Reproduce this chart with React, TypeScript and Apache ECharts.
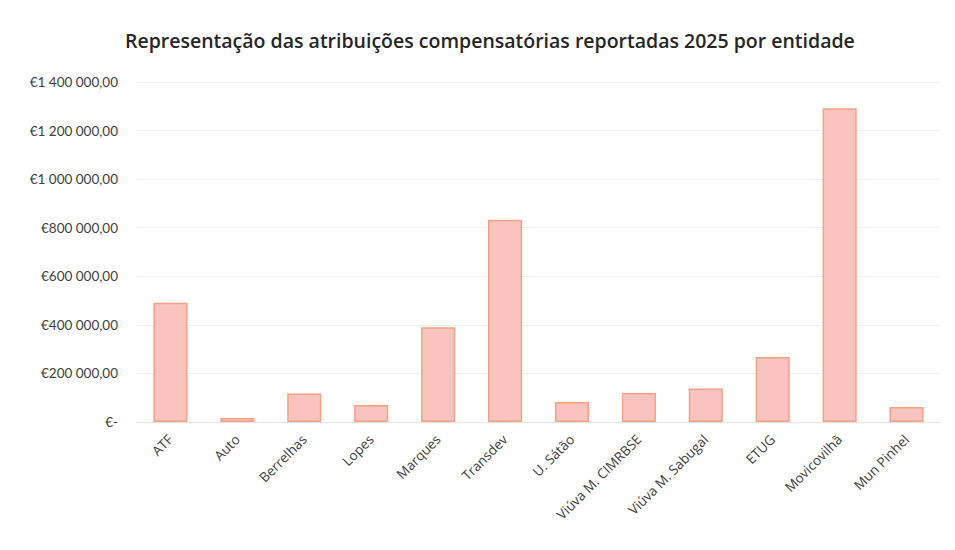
import React, { useEffect, useRef } from "react";
import * as echarts from "echarts";

const titleText = "Representação das atribuições compensatórias reportadas 2025 por entidade";
const categories = [
  "ATF",
  "Auto",
  "Berrelhas",
  "Lopes",
  "Marques",
  "Transdev",
  "U. Sátão",
  "Viúva M. CIMRBSE",
  "Viúva M. Sabugal",
  "ETUG",
  "Movicovilhã",
  "Mun Pinhel",
];
const values = [491000, 16000, 117000, 70000, 390000, 833000, 82000, 119000, 138000, 268000, 1292000, 62000];
const yMin = 0;
const yMax = 1400000;
const yInterval = 200000;

function formatEuro(v: number): string {
  if (v === 0) return "€-";
  const s = Math.round(v).toString().replace(/\B(?=(\d{3})+(?!\d))/g, " ");
  return "€" + s + ",00";
}

export default function App() {
  const ref = useRef<HTMLDivElement>(null);
  useEffect(() => {
    if (!ref.current) return;
    const chart = echarts.init(ref.current, undefined, { renderer: "svg" });
    chart.setOption({
      animation: false,
      backgroundColor: "#ffffff",
      title: {
        text: titleText,
        left: 120,
        top: 25,
        textStyle: {
          fontFamily: "Open Sans",
          fontSize: 19.5,
          fontWeight: 600,
          color: "#262626",
        },
      },
      grid: { left: 137, right: 15, top: 82, bottom: 128, containLabel: false },
      xAxis: {
        type: "category",
        data: categories,
        axisLine: { show: true, lineStyle: { color: "#e3e3e3", width: 1 } },
        axisTick: { show: false },
        axisLabel: {
          rotate: 45,
          interval: 0,
          margin: 15,
          fontFamily: "Open Sans",
          fontSize: 13.5,
          color: "#404040",
        },
      },
      yAxis: {
        type: "value",
        min: yMin,
        max: yMax,
        interval: yInterval,
        axisLine: { show: false },
        axisTick: { show: false },
        splitLine: { show: true, lineStyle: { color: "#eeeeee", width: 1 } },
        axisLabel: {
          margin: 19,
          fontFamily: "Lato",
          fontSize: 13.5,
          color: "#404040",
          formatter: (v: number) => formatEuro(v),
        },
      },
      series: [
        {
          type: "bar",
          data: values,
          barWidth: "51%",
          itemStyle: {
            color: "#f9c3bf",
            borderColor: "#f4a283",
            borderWidth: 1.5,
          },
        },
      ],
    });
    return () => chart.dispose();
  }, []);
  return (
    <div
      ref={ref}
      style={{ position: "fixed", left: 0, top: 0, width: 955, height: 550 }}
    />
  );
}
